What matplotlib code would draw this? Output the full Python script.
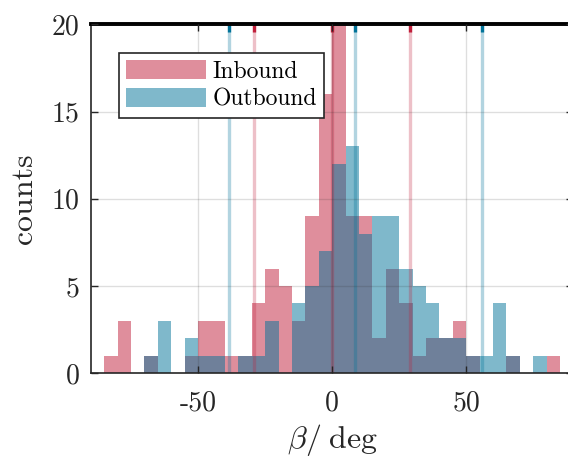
import matplotlib
matplotlib.use("Agg")
import matplotlib.pyplot as plt
import numpy as np

plt.rcParams['font.family'] = 'serif'
plt.rcParams['font.serif'] = ['cmr10']
plt.rcParams['mathtext.fontset'] = 'cm'
plt.rcParams['axes.unicode_minus'] = False

# histogram bins (deg) and counts
bin_edges = np.arange(-85, 90, 5)
inbound = [1, 3, 0, 1, 0, 0, 1, 3, 3, 1, 1, 4, 6, 5, 3, 9, 16, 20,
           9, 9, 2, 6, 4, 1, 2, 2, 3, 1, 0, 0, 1, 0, 0, 1]
outbound = [0, 0, 0, 1, 3, 0, 2, 1, 1, 0, 1, 1, 3, 0, 4, 5, 7, 12,
            13, 8, 9, 9, 6, 5, 4, 2, 2, 1, 1, 4, 1, 0, 1, 0]

# mean and +/- spread lines
inbound_lines = [-29.2, 0.0, 29.2]
outbound_lines = [-38.4, 8.7, 55.9]

red = '#C11F3B'
blue = '#017399'

fig = plt.figure(figsize=(5.68, 4.58), dpi=100)
ax = fig.add_axes([0.160, 0.185, 0.8495, 0.762])

w = np.diff(bin_edges)
ax.bar(bin_edges[:-1], inbound, width=w, align='edge', color=red, alpha=0.5,
       linewidth=0, label='Inbound')
ax.bar(bin_edges[:-1], outbound, width=w, align='edge', color=blue, alpha=0.5,
       linewidth=0, label='Outbound')

for x in inbound_lines:
    ax.plot([x, x], [0, 20], color=red, alpha=0.28, lw=2.4, solid_capstyle='butt')
    ax.plot([x, x], [19.55, 20], color=red, lw=2.4, solid_capstyle='butt')
for x in outbound_lines:
    ax.plot([x, x], [0, 20], color=blue, alpha=0.3, lw=2.4, solid_capstyle='butt')
    ax.plot([x, x], [19.55, 20], color=blue, lw=2.4, solid_capstyle='butt')

ax.set_xlim(-90, 90)
ax.set_ylim(0, 20)
ax.set_xticks([-50, 0, 50])
ax.set_xticklabels(['-50', '0', '50'])
ax.set_yticks([0, 5, 10, 15, 20])

ax.set_axisbelow(False)
ax.grid(True, color='#262626', alpha=0.15, lw=1)
ax.tick_params(direction='in', length=5, width=1, colors='#262626',
               top=True, right=True, labelsize=20, labelcolor='#262626')
ax.tick_params(axis='x', pad=12)
ax.tick_params(axis='y', pad=8)

for side in ['left', 'bottom', 'right']:
    ax.spines[side].set_color('#262626')
    ax.spines[side].set_linewidth(1.2)
ax.spines['top'].set_color('black')
ax.spines['top'].set_linewidth(2.8)

ax.set_xlabel(r'$\beta/\;\mathrm{deg}$', fontsize=23, color='#262626')
ax.set_ylabel('counts', fontsize=23, color='#262626', labelpad=10)

leg = ax.legend(loc='upper left', bbox_to_anchor=(0.058, 0.919), borderaxespad=0,
                fontsize=17, fancybox=False, framealpha=1, edgecolor='#262626',
                handlelength=3.4, handleheight=0.9, handletextpad=0.25,
                borderpad=0.3, labelspacing=0.22)
leg.get_frame().set_linewidth(1.2)
for h in leg.legend_handles:
    h.set_alpha(0.5)

fig.savefig('out.png', dpi=100)
